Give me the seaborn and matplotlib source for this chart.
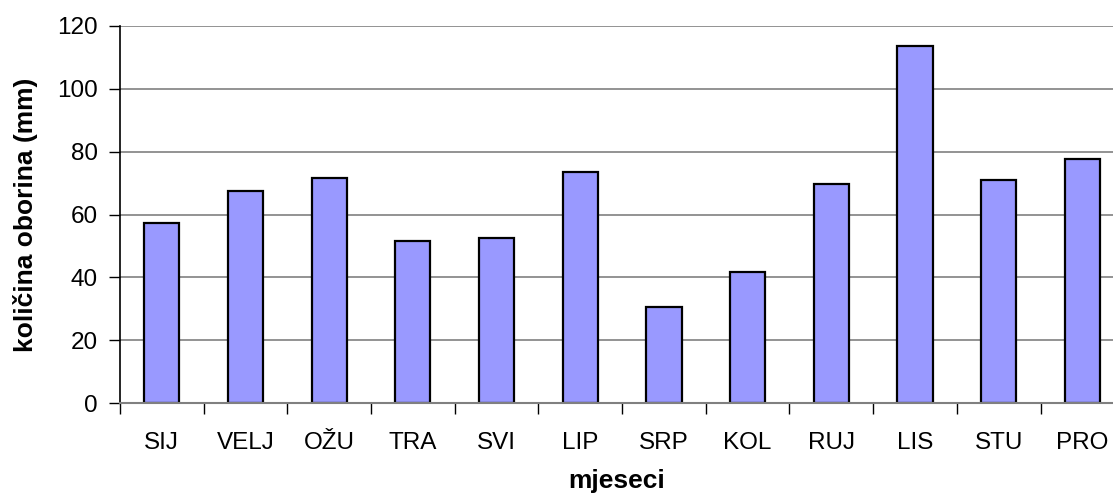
import numpy as np
import pandas as pd
from matplotlib import pyplot as plt
from matplotlib.ticker import FixedLocator
import seaborn as sns

#%% # data

mjeseci = ['SIJ', 'VELJ', 'OŽU', 'TRA', 'SVI', 'LIP', 'SRP', 'KOL', 'RUJ', 'LIS', 'STU', 'PRO']
oborina = [57.3, 67.4, 71.7, 51.5, 52.5, 73.4, 30.6, 41.8, 69.7, 113.5, 71.1, 77.6]

df = pd.DataFrame({'mjesec': mjeseci, 'oborina': oborina})

#%% # plot

sns.set_style('white')
plt.rcParams['font.family'] = ['Liberation Sans', 'DejaVu Sans']
plt.rcParams['text.color'] = 'black'
plt.rcParams['axes.labelcolor'] = 'black'
plt.rcParams['xtick.color'] = 'black'
plt.rcParams['ytick.color'] = 'black'

fig = plt.figure(figsize=(11.13, 4.97), dpi=100)
ax = fig.add_axes([120/1113, 1 - 403/497, 1 - 120/1113, (403 - 26)/497])

sns.barplot(data=df, x='mjesec', y='oborina', ax=ax, color='#9999FF',
            saturation=1, width=0.42, edgecolor='black', linewidth=1.6)

ax.set_ylim(0, 120)
ax.set_xlim(-0.5, -0.5 + (1113 - 121) / 83.6)
ax.set_yticks(np.arange(0, 121, 20))
ax.yaxis.grid(True, color='#808080', linewidth=1.2)
ax.set_axisbelow(True)

# ticks between categories, labels under the bars
ax.xaxis.set_minor_locator(FixedLocator(np.arange(-0.5, 12, 1)))
ax.tick_params(axis='x', which='major', length=0, pad=21, labelsize=17.5)
ax.tick_params(axis='x', which='minor', length=8, width=1, color='black', direction='out', bottom=True)
ax.tick_params(axis='y', which='major', length=8, width=1, color='black', direction='out',
               left=True, pad=8, labelsize=17.5)

for s in ['top', 'right']:
    ax.spines[s].set_visible(False)
ax.spines['left'].set_color('black')
ax.spines['left'].set_linewidth(1.2)
ax.spines['bottom'].set_color('#808080')
ax.spines['bottom'].set_linewidth(1.5)

ax.set_xlabel('mjeseci', fontsize=19, fontweight='bold', labelpad=11)
ax.set_ylabel('količina oborina (mm)', fontsize=19, fontweight='bold', labelpad=14)

plt.savefig('out.png', dpi=100)
